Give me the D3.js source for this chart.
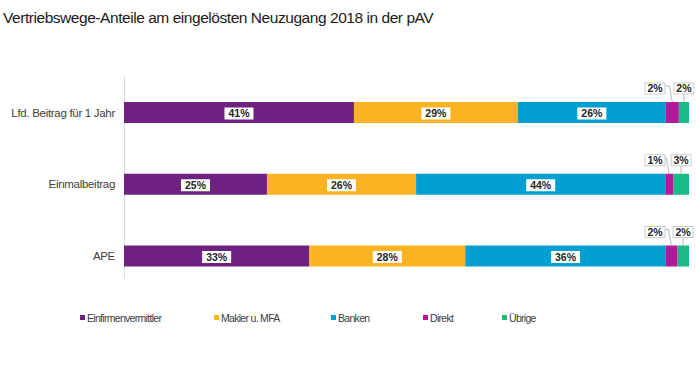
<!DOCTYPE html>
<meta charset="utf-8">
<script src="https://d3js.org/d3.v7.min.js"></script>
<style>
  body { margin: 0; background: #fff; }
  text { font-family: "Liberation Sans", Arial, sans-serif; }
</style>
<div id="my_dataviz"></div>
<script>
// categories and series (shares in %)
var categories = ["Lfd. Beitrag für 1 Jahr", "Einmalbeitrag", "APE"];
var seriesNames = ["Einfirmenvermittler", "Makler u. MFA", "Banken", "Direkt", "Übrige"];
var seriesColors = ["#6e2181", "#fbb322", "#009fd1", "#b5179b", "#19b98a"];
var einfirmen = [40.7, 25.3, 32.8];
var makler    = [29.0, 26.4, 27.6];
var banken    = [26.2, 44.1, 35.5];
var direkt    = [2.3, 1.4, 2.0];
var uebrige   = [1.8, 2.8, 2.1];
var values = [einfirmen, makler, banken, direkt, uebrige];

var width = 696, height = 372;

var svg = d3.select("#my_dataviz")
  .append("svg")
    .attr("width", width)
    .attr("height", height);

// title
svg.append("text")
  .attr("x", 3)
  .attr("y", 23)
  .style("font-size", "15.5px")
  .style("letter-spacing", "-0.45px")
  .style("fill", "#1a1a1a")
  .text("Vertriebswege-Anteile am eingelösten Neuzugang 2018 in der pAV");

var x = d3.scaleLinear()
  .domain([0, 100])
  .range([124, 689]);

var y = d3.scalePoint()
  .domain(categories)
  .range([112.5, 256]);

var barH = 21;

// axis line
svg.append("line")
  .attr("x1", x(0) + 0.5).attr("x2", x(0) + 0.5)
  .attr("y1", 77).attr("y2", 278)
  .style("stroke", "#d9d9d9");

// category labels
svg.selectAll(".cat")
  .data(categories)
  .enter()
  .append("text")
    .attr("x", 115)
    .attr("y", function(d) { return y(d); })
    .attr("dy", "0.35em")
    .attr("text-anchor", "end")
    .style("font-size", "11.5px")
    .style("letter-spacing", "-0.3px")
    .style("fill", "#404040")
    .text(function(d) { return d; });

// stacked segments
var segs = [];
categories.forEach(function(c, ci) {
  var acc = 0;
  values.forEach(function(v, si) {
    segs.push({cat: c, ci: ci, si: si, x0: acc, x1: acc + v[ci], v: v[ci]});
    acc += v[ci];
  });
});

svg.append("g")
  .selectAll("rect")
  .data(segs)
  .enter()
  .append("rect")
    .attr("x", function(d) { return x(d.x0); })
    .attr("y", function(d) { return y(d.cat) - barH / 2; })
    .attr("width", function(d) { return x(d.x1) - x(d.x0); })
    .attr("height", barH)
    .style("fill", function(d) { return seriesColors[d.si]; });

// labels
var lab = svg.append("g");
segs.forEach(function(d) {
  var txt = Math.round(d.v) + "%";
  var cx = (x(d.x0) + x(d.x1)) / 2;
  var cy = y(d.cat);
  var w = txt.length > 2 ? 29 : 20, h = 12;
  if (d.si < 3) {
    lab.append("rect")
      .attr("x", cx - w / 2).attr("y", cy - h / 2 + 1)
      .attr("width", w).attr("height", h)
      .style("fill", "#fff");
    lab.append("text")
      .attr("x", cx).attr("y", cy + 1)
      .attr("dy", "0.35em")
      .attr("text-anchor", "middle")
      .style("font-size", "10.5px")
      .style("font-weight", "bold")
      .style("fill", "#262626")
      .text(txt);
  } else {
    var top = cy - barH / 2;
    var bx, by = top - 8 - 11;
    if (d.si == 4) {
      bx = Math.min(cx - w / 2, width - 2 - w);
      lab.append("line")
        .attr("x1", cx).attr("x2", cx)
        .attr("y1", by + 11).attr("y2", top)
        .style("stroke", "#a6a6a6").style("stroke-width", 0.8);
    } else {
      bx = x(100) - 44;
      lab.append("polyline")
        .attr("points", (bx + w) + "," + (by + 3) + " " + (cx - 3) + "," + (by + 3) + " " + cx + "," + top)
        .style("fill", "none")
        .style("stroke", "#a6a6a6").style("stroke-width", 0.8);
    }
    lab.append("rect")
      .attr("x", bx).attr("y", by)
      .attr("width", w).attr("height", 11)
      .style("fill", "#fff")
      .style("stroke", "#bfbfbf").style("stroke-width", 0.8);
    lab.append("text")
      .attr("x", bx + w / 2).attr("y", by + 5.5)
      .attr("dy", "0.35em")
      .attr("text-anchor", "middle")
      .style("font-size", "10.5px")
      .style("font-weight", "bold")
      .style("fill", "#262626")
      .text(txt);
  }
});

// legend
var legendX = [80, 214, 331, 423, 502];
var leg = svg.append("g")
  .selectAll("g")
  .data(seriesNames)
  .enter()
  .append("g")
    .attr("transform", function(d, i) { return "translate(" + legendX[i] + ",318)"; });
leg.append("rect")
  .attr("x", 0).attr("y", -3)
  .attr("width", 5).attr("height", 5)
  .style("fill", function(d, i) { return seriesColors[i]; });
leg.append("text")
  .attr("x", 7).attr("y", 0)
  .attr("dy", "0.35em")
  .style("font-size", "10.5px")
  .style("letter-spacing", "-0.7px")
  .style("fill", "#404040")
  .text(function(d) { return d; });
</script>
